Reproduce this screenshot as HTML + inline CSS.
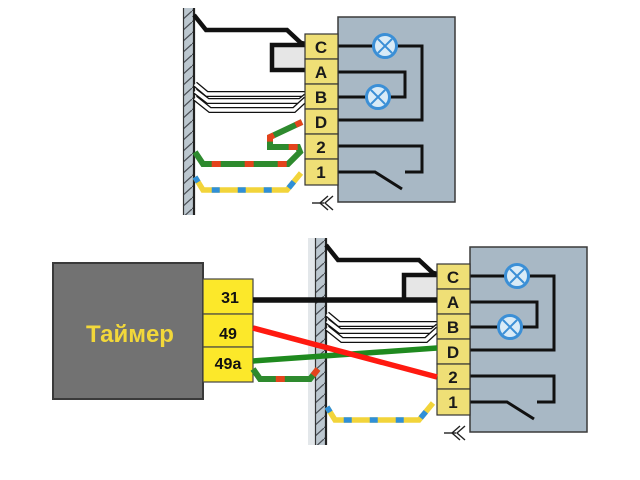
<!DOCTYPE html>
<html>
<head>
<meta charset="utf-8">
<style>
html,body{margin:0;padding:0;background:#fff;}
svg{display:block;}
text{font-family:"Liberation Sans","DejaVu Sans",sans-serif;font-weight:bold;}
</style>
</head>
<body>
<svg width="640" height="480" viewBox="0 0 640 480" xmlns="http://www.w3.org/2000/svg">
<defs>
  <pattern id="hatch" patternUnits="userSpaceOnUse" width="12" height="11">
    <rect width="12" height="11" fill="#bcc7cf"/>
    <line x1="0" y1="11" x2="12" y2="0" stroke="#4a4f55" stroke-width="1.2"/>
  </pattern>
  <g id="unit">
    <!-- wall -->
    <rect x="183" y="8" width="12" height="207" fill="url(#hatch)"/>
    <line x1="183.5" y1="8" x2="183.5" y2="215" stroke="#333" stroke-width="1.2"/>
    <line x1="194" y1="8" x2="194" y2="215" stroke="#222" stroke-width="2.2"/>
    <!-- black top wire -->
    <polyline points="194,15 206,30 287,30 301,43 306,44" fill="none" stroke="#111" stroke-width="4.5" stroke-linejoin="miter"/>
    <!-- U loop -->
    <path d="M306,45 L272,45 L272,70 L306,70" fill="#e6e6e6" stroke="#111" stroke-width="4.5"/>
    <!-- white wires -->
    <g fill="none" stroke-linejoin="miter">
      <polyline points="195,84 207,94 306,94" stroke="#111" stroke-width="6"/>
      <polyline points="195,84 207,94 306,94" stroke="#fff" stroke-width="3.4"/>
      <polyline points="195,91 208,101 300,101 306,96" stroke="#111" stroke-width="6"/>
      <polyline points="195,91 208,101 300,101 306,96" stroke="#fff" stroke-width="3.4"/>
      <polyline points="195,98 210,110 294,110 306,99" stroke="#111" stroke-width="6"/>
      <polyline points="195,98 210,110 294,110 306,99" stroke="#fff" stroke-width="3.4"/>
    </g>
    <!-- yellow/blue dashed -->
    <polyline points="195,177 203,190 287,190 301,173" fill="none" stroke="#f2d43a" stroke-width="5.5"/>
    <polyline points="195,177 203,190 287,190 301,173" fill="none" stroke="#2f8fd8" stroke-width="5.5" stroke-dasharray="8,18" stroke-dashoffset="2"/>
    <!-- device box -->
    <rect x="338" y="17" width="117" height="185" fill="#a8b8c5" stroke="#3a3a3a" stroke-width="1.5"/>
    <!-- internal wires -->
    <g fill="none" stroke="#111" stroke-width="3">
      <polyline points="338,46 374,46"/>
      <polyline points="396,46 422,46 422,120 338,120"/>
      <polyline points="338,72 405,72 405,97 389,97"/>
      <polyline points="367,97 338,97"/>
      <polyline points="338,146 422,146 422,172 405,172"/>
      <polyline points="338,172 375,172 402,189"/>
    </g>
    <!-- lamps -->
    <g>
      <circle cx="385" cy="46" r="11.5" fill="#d9ebf7" stroke="#3b8fd6" stroke-width="3"/>
      <line x1="378" y1="39" x2="392" y2="53" stroke="#3b8fd6" stroke-width="2"/>
      <line x1="392" y1="39" x2="378" y2="53" stroke="#3b8fd6" stroke-width="2"/>
      <circle cx="378" cy="97" r="11.5" fill="#d9ebf7" stroke="#3b8fd6" stroke-width="3"/>
      <line x1="371" y1="90" x2="385" y2="104" stroke="#3b8fd6" stroke-width="2"/>
      <line x1="385" y1="90" x2="371" y2="104" stroke="#3b8fd6" stroke-width="2"/>
    </g>
    <!-- connector -->
    <g fill="#efdf76" stroke="#333" stroke-width="1.2">
      <rect x="305" y="34" width="33" height="25"/>
      <rect x="305" y="59" width="33" height="25"/>
      <rect x="305" y="84" width="33" height="25"/>
      <rect x="305" y="109" width="33" height="25"/>
      <rect x="305" y="134" width="33" height="25"/>
      <rect x="305" y="159" width="33" height="26"/>
    </g>
    <g font-size="17" fill="#1a1a1a" text-anchor="middle">
      <text x="321" y="53">C</text>
      <text x="321" y="78">A</text>
      <text x="321" y="103">B</text>
      <text x="321" y="128">D</text>
      <text x="321" y="153">2</text>
      <text x="321" y="178">1</text>
    </g>
    <!-- arrow symbol -->
    <g fill="none" stroke="#222" stroke-width="1.4">
      <line x1="312" y1="203" x2="324" y2="203"/>
      <polyline points="328,196 320,203 328,210"/>
      <polyline points="333,196 325,203 333,210"/>
    </g>
  </g>
</defs>

<!-- TOP DIAGRAM -->
<use href="#unit"/>
<!-- green/red Z wire -->
<polyline points="302,122 270,137 270,147 298,147 300,152 288,164 203,164 195,152" fill="none" stroke="#2e8a2e" stroke-width="6" stroke-linejoin="miter"/>
<polyline points="302,122 270,137 270,147 298,147 300,152 288,164 203,164 195,152" fill="none" stroke="#e4431c" stroke-width="6" stroke-dasharray="9,24" stroke-dashoffset="2"/>

<!-- BOTTOM DIAGRAM -->
<rect x="308" y="238" width="7" height="207" fill="#e3e7ea"/>
<use href="#unit" transform="translate(132,230)"/>

<!-- timer -->
<rect x="53" y="263" width="150" height="136" fill="#727272" stroke="#3a3a3a" stroke-width="2"/>
<text x="130" y="342" font-size="24" fill="#f2d83a" text-anchor="middle">Таймер</text>
<g fill="#fce82a" stroke="#444" stroke-width="1.2">
  <rect x="203" y="279" width="50" height="35"/>
  <rect x="203" y="314" width="50" height="33"/>
  <rect x="203" y="347" width="50" height="35"/>
</g>
<g font-size="16" fill="#111" text-anchor="middle">
  <text x="230" y="303">31</text>
  <text x="228" y="339">49</text>
  <text x="228" y="369">49a</text>
</g>

<!-- wires from timer -->
<line x1="253" y1="300" x2="437" y2="300" stroke="#111" stroke-width="5.5"/>
<polyline points="253,369 260,379 310,379 318,369" fill="none" stroke="#2e8a2e" stroke-width="6"/>
<polyline points="253,369 260,379 310,379 318,369" fill="none" stroke="#e4431c" stroke-width="6" stroke-dasharray="9,30" stroke-dashoffset="-28"/>
<line x1="253" y1="361" x2="437" y2="348" stroke="#1f8a1f" stroke-width="5.5"/>
<line x1="253" y1="328" x2="437" y2="377" stroke="#ff1a10" stroke-width="5.5"/>
</svg>
</body>
</html>
